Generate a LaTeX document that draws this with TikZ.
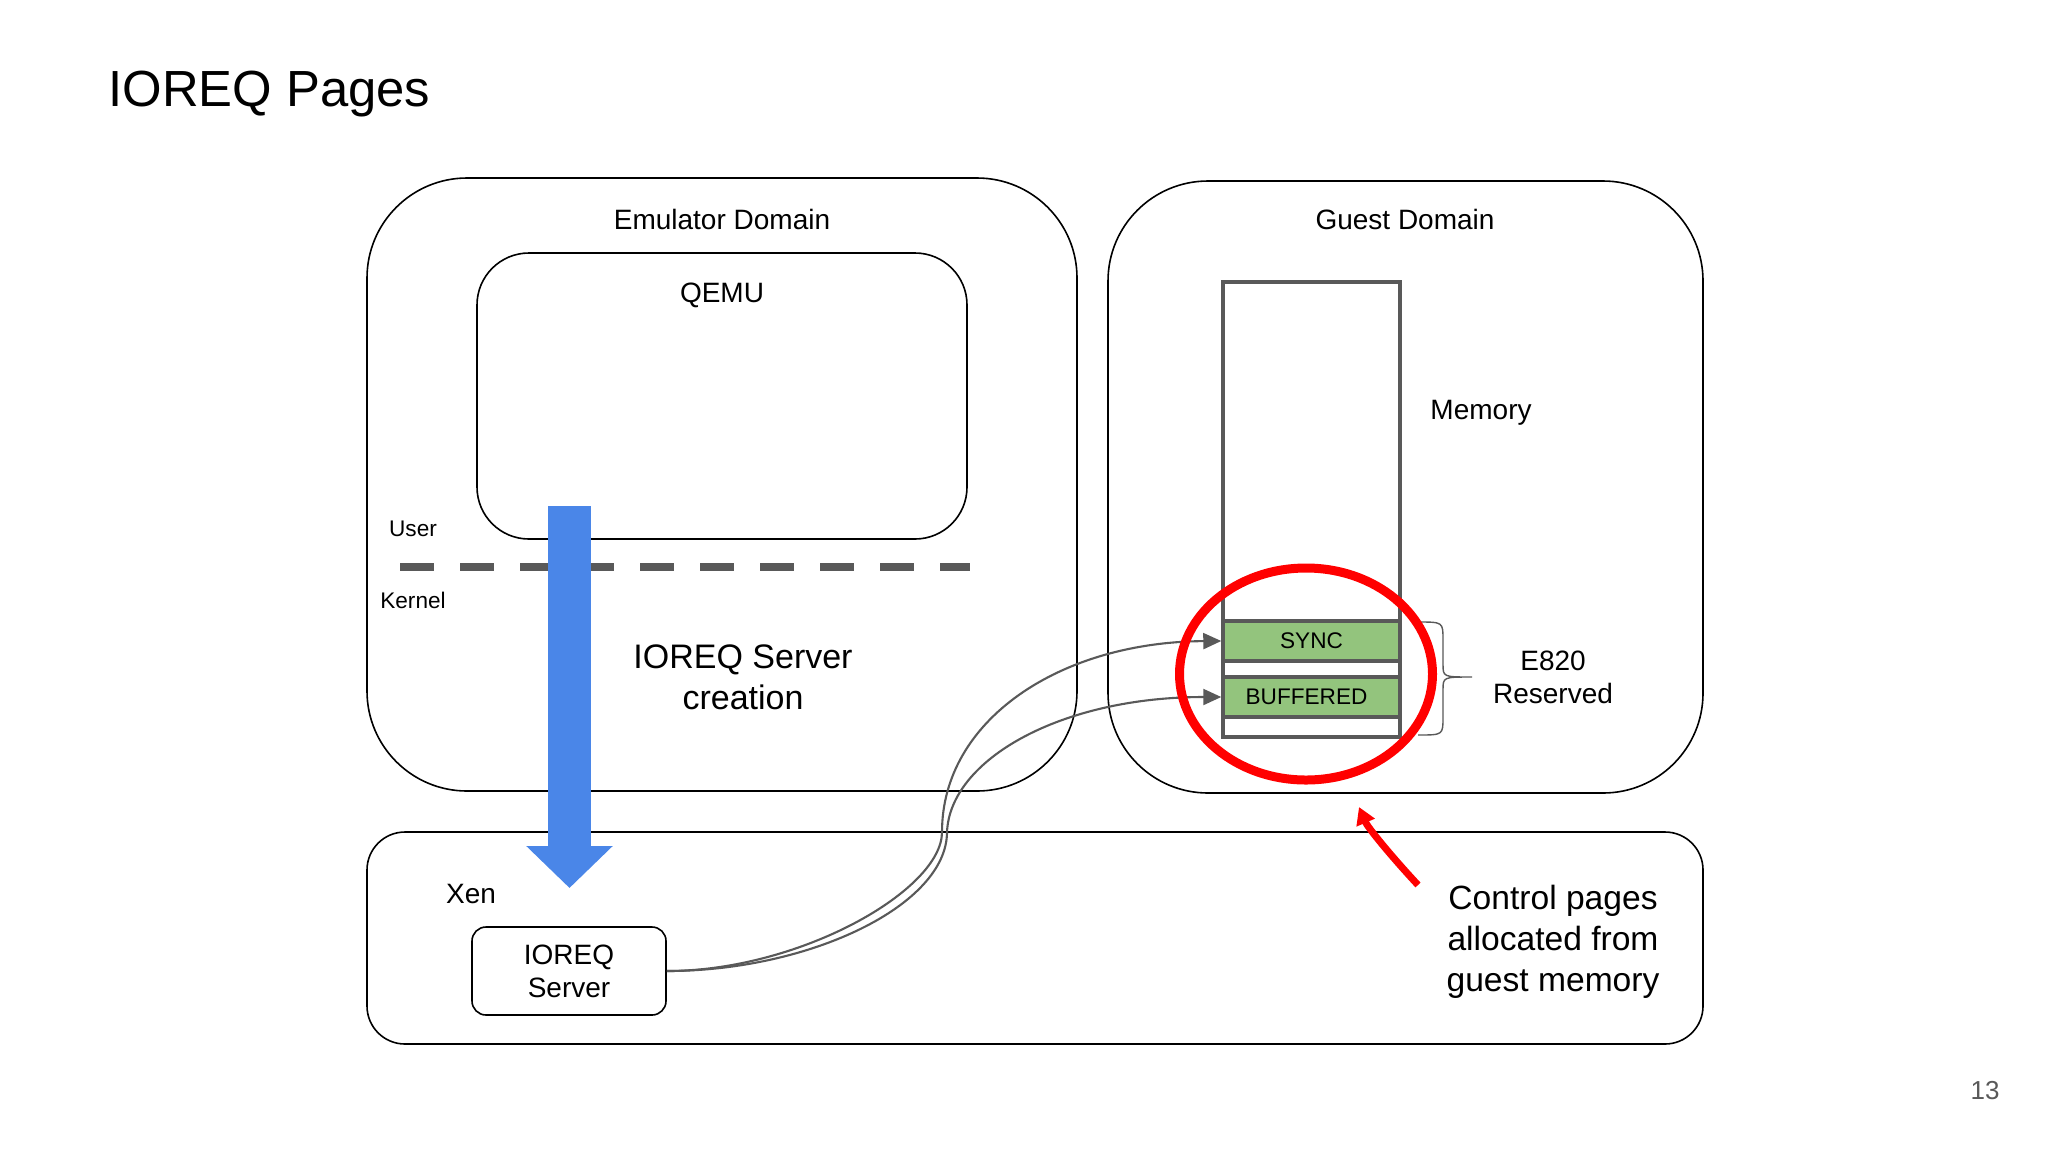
\documentclass[tikz,border=0pt]{standalone}
\usepackage{fontspec}
\setmainfont{Liberation Sans}
\usetikzlibrary{arrows.meta,shapes.geometric}
\definecolor{gblue}{HTML}{4A86E8}
\definecolor{ggreen}{HTML}{93C47D}
\definecolor{dgray}{HTML}{595959}
\definecolor{gred}{HTML}{FF0000}
\tikzset{
  region/.style={draw=black, line width=0.8pt, inner sep=0pt},
  lbl/.style={inner sep=0pt, anchor=base, font=\fontsize{14}{16}\selectfont},
  smalllbl/.style={lbl, font=\fontsize{11.3}{13}\selectfont},
  biglbl/.style={lbl, font=\fontsize{17}{20}\selectfont},
  notelbl/.style={lbl, font=\fontsize{16.8}{20}\selectfont},
  memcell/.style={draw=dgray, line width=1.75pt, inner sep=0pt, minimum width=88.5pt},
  ioconn/.style={draw=dgray, line width=1.05pt, -{Triangle[length=9pt,width=8pt]}},
}
\begin{document}
\begin{tikzpicture}[x=0.5pt,y=-0.5pt]
\useasboundingbox[fill=white] (0,0) rectangle (2048,1152);

% title
\node[lbl, anchor=base west, font=\fontsize{25.4}{30}\selectfont] (title) at (108,106) {IOREQ Pages};

% regions
\node[region, rounded corners=50pt, minimum width=355pt, minimum height=306.5pt] (emu) at (722,484.5) {};
\node[region, rounded corners=50pt, minimum width=297.5pt, minimum height=306pt] (guest) at (1405.5,487) {};
\node[region, rounded corners=19pt, minimum width=668pt, minimum height=106pt] (xen) at (1035,938) {};
\node[region, rounded corners=26pt, minimum width=245pt, minimum height=143pt] (qemu) at (722,396) {};
\node[region, rounded corners=7pt, minimum width=97pt, minimum height=44pt, align=center, font=\fontsize{14}{16.5}\selectfont] (srv) at (569,971) {IOREQ\\Server};

% labels
\node[lbl] (emulbl) at (722,229) {Emulator Domain};
\node[lbl] (guestlbl) at (1405,229) {Guest Domain};
\node[lbl] (qemulbl) at (722,302) {QEMU};
\node[smalllbl] (userlbl) at (413,536) {User};
\node[smalllbl] (kernlbl) at (413,608) {Kernel};
\node[biglbl] (crea1) at (743,668) {IOREQ Server};
\node[biglbl] (crea2) at (743,709) {creation};
\node[lbl] (memlbl) at (1481,419) {Memory};
\node[lbl] (e820a) at (1553,670) {E820};
\node[lbl] (e820b) at (1553,703) {Reserved};
\node[lbl] (xenlbl) at (471,903) {Xen};
\node[notelbl] (ctl1) at (1553,909) {Control pages};
\node[notelbl] (ctl2) at (1553,950) {allocated from};
\node[notelbl] (ctl3) at (1553,991) {guest memory};
\node[lbl, text=dgray, font=\fontsize{13}{15}\selectfont] (pagenum) at (1985,1099) {13};

% user / kernel separator
\coordinate (dl) at (400,567);
\coordinate (dr) at (970,567);
\draw[dgray, line width=4pt, dash pattern=on 17pt off 13pt] (dl) -- (dr);

% blue creation arrow
\coordinate (bstart) at (569.5,506);
\coordinate (bend) at (569.5,888);
\draw[gblue, line width=21.5pt, -{Triangle[length=21pt,width=42pt]}] (bstart) -- (bend);

% memory column
\node[memcell, minimum height=227.5pt] (mem) at (1311.5,509.5) {};
\node[memcell, fill=ggreen, minimum height=20pt, font=\fontsize{11.3}{13}\selectfont] (sync) at (1311.5,641) {SYNC};
\node[memcell, fill=ggreen, minimum height=20pt, font=\fontsize{11.3}{13}\selectfont] (buf) at (1311.5,697) {BUFFERED\kern5pt};

% brace
\draw[dgray, line width=0.7pt] (1418,622) .. controls (1443,622) .. (1443,640) -- (1443,664)
  .. controls (1443,677) .. (1472,677) .. controls (1443,677) .. (1443,690) -- (1443,717)
  .. controls (1443,735) .. (1418,735);

% connectors from IOREQ server to the pages
\draw[ioconn] (srv.east) .. controls (800,971) and (942,890) .. (942,832)
  .. controls (942,720) and (1060,642) .. (sync.west);
\draw[ioconn] (srv.east) .. controls (810,971) and (947,905) .. (947,832)
  .. controls (950,760) and (1060,697) .. (buf.west);

% highlight
\node[ellipse, draw=gred, line width=4.5pt, minimum width=126.5pt, minimum height=106pt, inner sep=0pt] (hl) at (1306,674) {};
\coordinate (rtail) at (1418,885);
\coordinate (rtip) at (1359,807);
\draw[gred, line width=3.5pt, -{Triangle[length=8.5pt,width=9.5pt]}] (rtail) .. controls (1392,857) and (1368,828) .. (rtip);
\end{tikzpicture}
\end{document}
